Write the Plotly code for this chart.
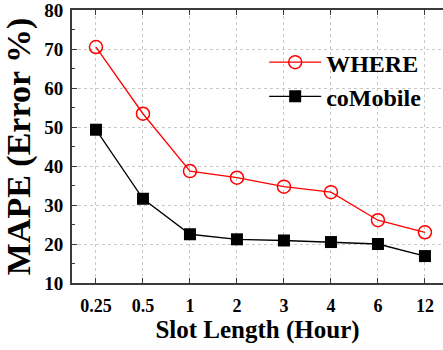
import plotly.graph_objects as go

categories = ["0.25", "0.5", "1", "2", "3", "4", "6", "12"]
where_vals = [70.5, 53.4, 38.7, 37.0, 34.7, 33.3, 26.1, 23.0]
comobile_vals = [49.3, 31.6, 22.5, 21.2, 20.9, 20.5, 20.0, 16.9]
y_ticks = [10, 20, 30, 40, 50, 60, 70, 80]

x_idx = list(range(len(categories)))
FONT = "Liberation Serif"
AX = "#3a3a3a"
GRID = "#c8c8c8"

fig = go.Figure()
fig.add_trace(go.Scatter(
    x=x_idx, y=where_vals, name="WHERE", mode="lines+markers",
    line=dict(color="#ff0000", width=1.3),
    marker=dict(symbol="circle-open", size=13, color="#ff0000", line=dict(width=1.5, color="#ff0000")),
))
fig.add_trace(go.Scatter(
    x=x_idx, y=comobile_vals, name="coMobile", mode="lines+markers",
    line=dict(color="#000000", width=1.3),
    marker=dict(symbol="square", size=12, color="#000000"),
))

fig.update_layout(
    width=443, height=350,
    margin=dict(l=72, r=0, t=7, b=67),
    plot_bgcolor="white", paper_bgcolor="white",
    font=dict(family=FONT, color="#000000", size=18, weight="bold"),
    showlegend=True,
    legend=dict(
        x=0.518, y=0.89, xanchor="left", yanchor="top",
        font=dict(family=FONT, size=24, weight="bold", color="#000000"),
        bgcolor="rgba(0,0,0,0)", itemwidth=52, tracegroupgap=0,
    ),
)
fig.update_xaxes(
    type="linear",
    range=[-0.51, 7.384],
    tickmode="array", tickvals=x_idx, ticktext=categories,
    ticks="inside", ticklen=5, tickwidth=1.2, tickcolor=AX,
    showline=True, linecolor=AX, linewidth=2, mirror="ticks",
    showgrid=True, gridcolor=GRID, griddash="dot", gridwidth=1,
    zeroline=False,
    tickfont=dict(family=FONT, size=18, weight="bold", color="#000000"),
    ticklabelstandoff=5,
    title=dict(text="Slot Length (Hour)", font=dict(family=FONT, size=25, weight="bold", color="#000000"), standoff=6),
)
fig.update_yaxes(
    range=[10, 80],
    tickmode="array", tickvals=y_ticks,
    ticks="inside", ticklen=5, tickwidth=1.2, tickcolor=AX,
    minor=dict(ticks="inside", ticklen=3, tickwidth=1, tickcolor=AX, dtick=5, tick0=5, showgrid=False),
    showline=True, linecolor=AX, linewidth=2, mirror=False,
    showgrid=True, gridcolor=GRID, griddash="dot", gridwidth=1,
    zeroline=False,
    tickfont=dict(family=FONT, size=19, weight="bold", color="#000000"),
    ticklabelstandoff=3, ticklabeloverflow="allow",
    title=dict(text="MAPE (Error %)", font=dict(family=FONT, size=34, weight="bold", color="#000000"), standoff=3),
)

fig.write_html("out.html")
